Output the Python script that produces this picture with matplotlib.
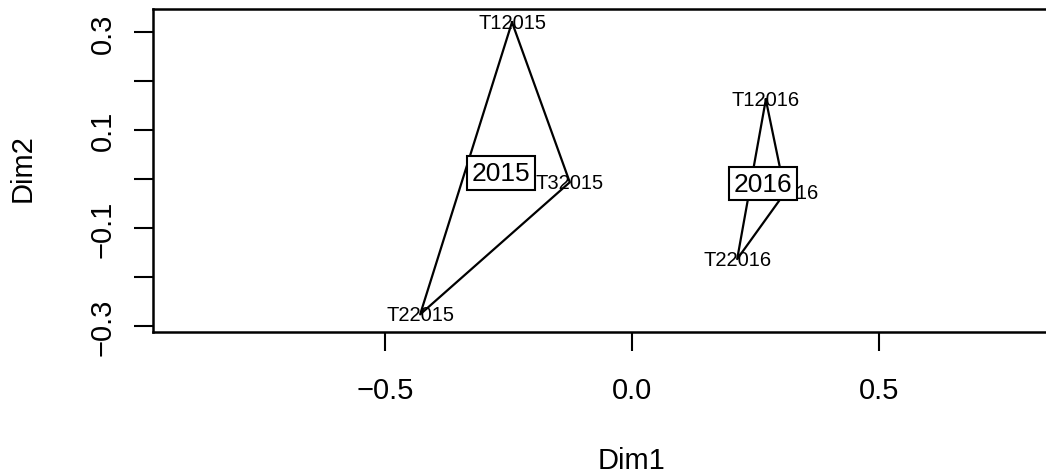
import numpy as np
import matplotlib
matplotlib.use('Agg')
from matplotlib import pyplot as plt

plt.rcParams['font.family'] = ['Liberation Sans', 'DejaVu Sans']

# individual coordinates (Dim1, Dim2) for each year
labels_2015 = ['T12015', 'T32015', 'T22015']
dim1_2015 = [-0.243, -0.126, -0.429]
dim2_2015 = [0.321, -0.006, -0.276]

labels_2016 = ['T12016', 'T32016', 'T22016']
dim1_2016 = [0.271, 0.310, 0.213]
dim2_2016 = [0.163, -0.027, -0.163]

groups = ['2015', '2016']

fig = plt.figure(figsize=(10.46, 4.77), dpi=100)
ax = fig.add_axes([153/1046, 144/477, 958/1046, 323/477])

for grp, lab, x, y in [(groups[0], labels_2015, dim1_2015, dim2_2015),
                       (groups[1], labels_2016, dim1_2016, dim2_2016)]:
    # hull of the three points (a triangle), closed
    xs = x + [x[0]]
    ys = y + [y[0]]
    ax.plot(xs, ys, color='black', lw=1.6, zorder=2)
    for l, xi, yi in zip(lab, x, y):
        ax.text(xi, yi, l, fontsize=14.5, ha='center', va='center', zorder=3)
    # group label at the centroid, boxed, drawn over the hull
    ax.text(np.mean(x), np.mean(y), grp, fontsize=19, ha='center', va='center',
            zorder=4, bbox=dict(boxstyle='square,pad=0.18', fc='white', ec='black', lw=1.5))

ax.set_xlim(-0.97, 0.97)
ax.set_ylim(-0.312, 0.348)

ax.set_xticks([-0.5, 0.0, 0.5])
ax.set_xticklabels(['\u22120.5', '0.0', '0.5'])
ax.set_yticks([-0.3, -0.2, -0.1, 0.0, 0.1, 0.2, 0.3])
ax.set_yticklabels(['\u22120.3', '', '\u22120.1', '', '0.1', '', '0.3'], rotation=90, va='center')

ax.tick_params(axis='both', labelsize=21, length=14, width=1.5, color='black')
ax.tick_params(axis='x', pad=18)
ax.tick_params(axis='y', pad=12)
for s in ax.spines.values():
    s.set_linewidth(1.8)

ax.set_xlabel('Dim1', fontsize=21)
ax.set_ylabel('Dim2', fontsize=21)
ax.xaxis.set_label_coords(0.5, -0.396)
ax.yaxis.set_label_coords(-0.1357, 0.51)
ax.xaxis.label.set_va('center')
ax.yaxis.label.set_va('center')

fig.savefig('out.png', dpi=100)
